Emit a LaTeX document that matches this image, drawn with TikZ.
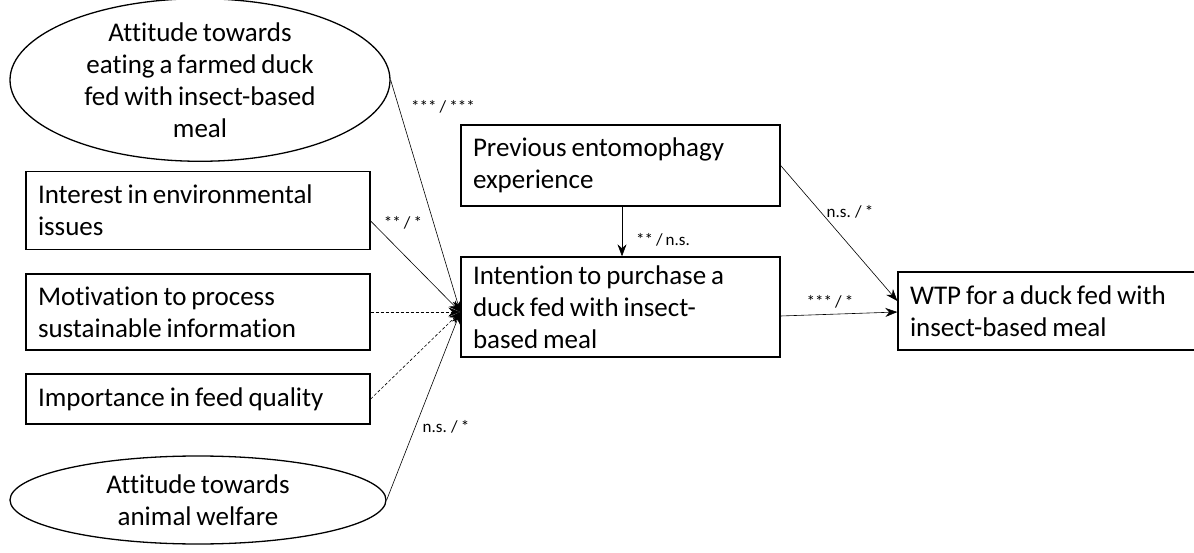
\documentclass[tikz,border=0pt]{standalone}
\usepackage{fontspec}
\setmainfont[Ligatures=NoCommon,WordSpace=0.8]{Carlito}
\usetikzlibrary{shapes.geometric,arrows.meta,calc}
\begin{document}
\begin{tikzpicture}[x=1pt,y=-1pt,
  every node/.style={font=\fontsize{27}{32}\selectfont},
  box/.style={draw,line width=1.3pt,rectangle,align=flush left,inner xsep=12pt,inner ysep=0pt,anchor=center},
  oval/.style={draw,line width=1.3pt,ellipse,align=center,inner sep=0pt,anchor=center},
  conn/.style={line width=0.6pt,-{Stealth[length=12pt,width=9pt]}},
  dconn/.style={conn,dash pattern=on 3pt off 2pt},
  lbl/.style={font=\fontsize{17}{19}\selectfont,inner sep=0pt}]
\useasboundingbox (0,0) rectangle (1194,553);
\node[oval,minimum width=380pt,minimum height=144pt] (att) at (200,80)
  {Attitude towards\\eating a farmed duck\\fed with insect-based\\meal};
\node[box,text width=320pt,minimum height=78pt] (int) at (198,210.5)
  {Interest in environmental\\issues};
\node[box,text width=320pt,minimum height=76pt] (mot) at (198,312)
  {Motivation to process\\sustainable information};
\node[box,text width=320pt,minimum height=50pt] (imp) at (198,399)
  {Importance in feed quality};
\node[oval,minimum width=376pt,minimum height=88pt] (anw) at (198,500)
  {Attitude towards\\animal welfare};
\node[box,text width=295pt,minimum height=81pt] (prev) at (620.5,165.5)
  {Previous entomophagy\\experience};
\node[box,text width=295pt,minimum height=100pt] (inten) at (620.5,307)
  {Intention to purchase a\\duck fed with insect-\\based meal};
\node[box,text width=274pt,minimum height=78pt] (wtp) at (1047,311)
  {WTP for a duck fed with\\insect-based meal};
\coordinate (hub) at ($(inten.west)+(0,5)$);
\draw[conn] (att.east) -- (hub);
\draw[conn] ($(int.east)+(0,10.5)$) -- (hub);
\draw[dconn] (mot.east) -- (hub);
\draw[dconn] (imp.east) -- (hub);
\draw[conn] (anw.east) -- (hub);
\draw[conn] ($(prev.south)+(1.5,0)$) -- ($(inten.north)+(1.5,0)$);
\draw[conn] (prev.east) -- ($(wtp.west)+(0,-10)$);
\draw[conn] ($(inten.east)+(0,9)$) -- ($(wtp.west)+(0,1)$);
\node[lbl] (l1) at (443,107) {*** / ***};
\node[lbl] (l2) at (403,223) {** / *};
\node[lbl] (l3) at (446,427) {n.s. / *};
\node[lbl] (l4) at (663,240) {** / n.s.};
\node[lbl] (l5) at (850,212) {n.s. / *};
\node[lbl] (l6) at (830,302) {*** / *};
\end{tikzpicture}
\end{document}
